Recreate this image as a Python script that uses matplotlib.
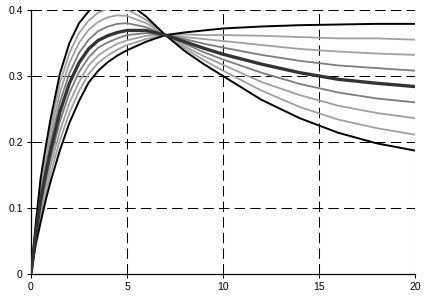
import matplotlib.pyplot as plt

x = [0, 0.25, 0.5, 0.75, 1, 1.5, 2, 2.5, 3, 3.5, 4, 4.5, 5, 6, 7, 8, 9, 10, 12, 14, 16, 18, 20]

# curve 0: lower black (flattens out at ~0.38)
c0 = [0, 0.045, 0.078, 0.110, 0.138, 0.187, 0.229, 0.262, 0.290, 0.308, 0.321, 0.331,
      0.339, 0.352, 0.362, 0.366, 0.369, 0.372, 0.375, 0.377, 0.378, 0.379, 0.379]
c1 = [0, 0.049, 0.087, 0.120, 0.150, 0.202, 0.244, 0.277, 0.303, 0.320, 0.331, 0.340,
      0.347, 0.356, 0.362, 0.363, 0.362, 0.362, 0.361, 0.359, 0.357, 0.357, 0.355]
c2 = [0, 0.053, 0.095, 0.130, 0.162, 0.216, 0.259, 0.291, 0.316, 0.331, 0.341, 0.349,
      0.354, 0.361, 0.362, 0.359, 0.356, 0.353, 0.347, 0.341, 0.337, 0.334, 0.332]
c3 = [0, 0.056, 0.104, 0.140, 0.173, 0.231, 0.274, 0.306, 0.328, 0.343, 0.351, 0.357,
      0.362, 0.365, 0.362, 0.356, 0.349, 0.343, 0.332, 0.323, 0.316, 0.312, 0.308]
# curve 4: thick middle curve
c4 = [0, 0.060, 0.112, 0.150, 0.185, 0.245, 0.289, 0.320, 0.341, 0.354, 0.361, 0.366,
      0.369, 0.369, 0.362, 0.352, 0.342, 0.333, 0.318, 0.305, 0.295, 0.289, 0.284]
c5 = [0, 0.064, 0.120, 0.160, 0.197, 0.260, 0.304, 0.335, 0.355, 0.368, 0.375, 0.379,
      0.380, 0.374, 0.362, 0.349, 0.336, 0.325, 0.305, 0.288, 0.275, 0.266, 0.260]
c6 = [0, 0.069, 0.129, 0.170, 0.209, 0.274, 0.320, 0.350, 0.370, 0.382, 0.389, 0.392,
      0.391, 0.380, 0.362, 0.345, 0.330, 0.317, 0.291, 0.271, 0.255, 0.244, 0.236]
c7 = [0, 0.073, 0.137, 0.180, 0.220, 0.289, 0.335, 0.365, 0.384, 0.396, 0.402, 0.404,
      0.401, 0.385, 0.362, 0.342, 0.324, 0.308, 0.278, 0.253, 0.234, 0.221, 0.211]
# curve 8: upper black (peaks above the axis top, then falls)
c8 = [0, 0.077, 0.145, 0.190, 0.232, 0.303, 0.350, 0.380, 0.398, 0.410, 0.416, 0.417,
      0.412, 0.390, 0.362, 0.338, 0.318, 0.300, 0.264, 0.236, 0.214, 0.198, 0.187]

x_ticks = [0, 5, 10, 15, 20]
y_ticks = [0, 0.1, 0.2, 0.3, 0.4]
y_labels = ['0', '0.1', '0.2', '0.3', '0.4']

light = '#a0a0a0'
mid = '#7c7c7c'

plt.rcParams['font.family'] = ['Liberation Sans', 'DejaVu Sans']

fig = plt.figure(figsize=(4.26, 3.02), dpi=100, facecolor='white')
ax = fig.add_axes([31 / 426, 28 / 302, 384 / 426, 264 / 302])

# dashed grid, which also forms the top and right borders
for gx in x_ticks[1:]:
    ax.axvline(gx, color='black', lw=0.75, ls=(0, (10, 5)), zorder=1)
for gy in y_ticks[1:]:
    ax.axhline(gy, color='black', lw=0.75, ls=(0, (10, 5)), zorder=1)

ax.plot(x, c1, color=light, lw=1.3, zorder=2)
ax.plot(x, c2, color=light, lw=1.3, zorder=2)
ax.plot(x, c3, color=mid, lw=1.3, zorder=2)
ax.plot(x, c5, color=mid, lw=1.3, zorder=2)
ax.plot(x, c6, color=light, lw=1.3, zorder=2)
ax.plot(x, c7, color=light, lw=1.3, zorder=2)
ax.plot(x, c0, color='black', lw=1.4, zorder=3)
ax.plot(x, c8, color='black', lw=1.4, zorder=3)
ax.plot(x, c4, color='#333333', lw=2.4, zorder=4)

ax.set_xlim(0, 20)
ax.set_ylim(0, 0.4)
ax.set_xticks(x_ticks)
ax.set_yticks(y_ticks)
ax.set_yticklabels(y_labels)
ax.tick_params(direction='out', length=3, width=0.75, labelsize=7.5, pad=3, colors='black')

ax.spines['top'].set_visible(False)
ax.spines['right'].set_visible(False)
ax.spines['left'].set_linewidth(0.9)
ax.spines['bottom'].set_linewidth(0.9)

fig.savefig('out.png', dpi=100)
